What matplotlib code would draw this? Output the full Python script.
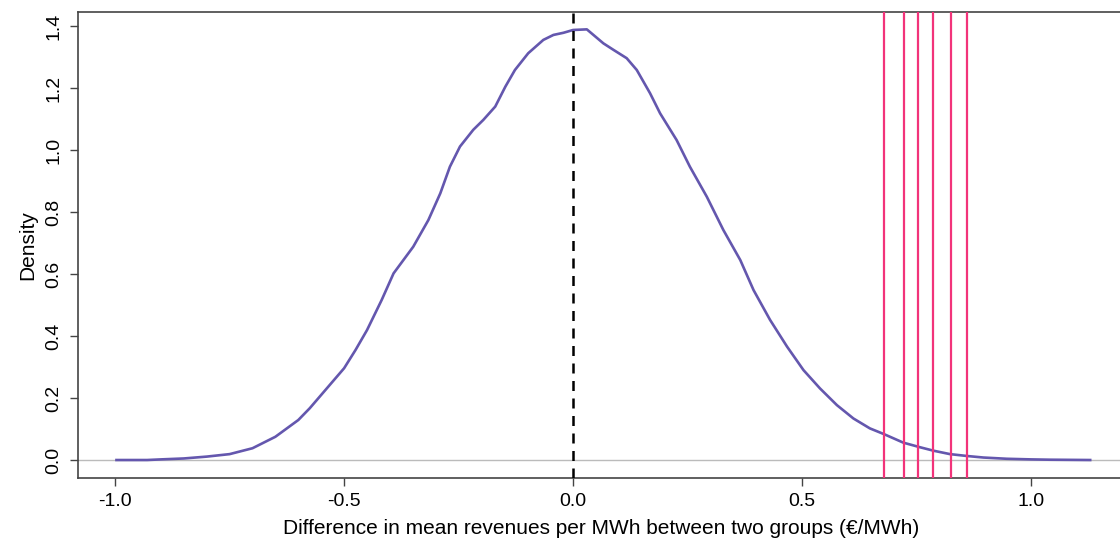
import matplotlib.pyplot as plt

plt.rcParams['font.family'] = ['Liberation Sans', 'DejaVu Sans']

# density curve
diff_x = [-0.997, -0.93, -0.9, -0.85, -0.8, -0.75, -0.7, -0.65, -0.6, -0.575, -0.55, -0.525,
          -0.5, -0.475, -0.45,
          -0.418, -0.392, -0.349, -0.316, -0.29, -0.269, -0.247, -0.218, -0.196, -0.17,
          -0.148, -0.127, -0.098, -0.065, -0.043, -0.021, 0.0, 0.03, 0.066, 0.088, 0.117,
          0.139, 0.168, 0.19, 0.226, 0.255, 0.292, 0.328, 0.365, 0.394, 0.43, 0.467, 0.503,
          0.539, 0.576, 0.612, 0.648, 0.678, 0.721, 0.758, 0.787, 0.823, 0.86, 0.896, 0.947,
          1.0, 1.041, 1.129]
density = [0.0, 0.0, 0.002, 0.005, 0.011, 0.019, 0.038, 0.075, 0.129, 0.167, 0.21, 0.253,
           0.296, 0.355, 0.419,
           0.516, 0.602, 0.688, 0.774, 0.86, 0.946, 1.011, 1.065, 1.097, 1.14,
           1.204, 1.258, 1.312, 1.355, 1.371, 1.378, 1.387, 1.389, 1.344, 1.323, 1.296,
           1.258, 1.183, 1.118, 1.032, 0.946, 0.849, 0.742, 0.645, 0.548, 0.452, 0.366, 0.29,
           0.231, 0.177, 0.134, 0.102, 0.084, 0.056, 0.041, 0.03, 0.019, 0.013, 0.008, 0.004,
           0.002, 0.001, 0.0]

# observed differences (red lines)
observed = [0.678, 0.722, 0.754, 0.785, 0.824, 0.860]

fig = plt.figure(figsize=(11.2, 5.4), dpi=100)
ax = fig.add_axes([78 / 1120, (540 - 478) / 540, (1125 - 78) / 1120, (478 - 12) / 540])

ax.axhline(0, color='#bbbbbb', lw=1.0, zorder=1)
ax.plot(diff_x, density, color='#6457ae', lw=1.9, zorder=3)
for v in observed:
    ax.axvline(v, color='#f2337a', lw=1.6, zorder=4)
ax.axvline(0, color='black', lw=1.8, ls=(0, (4, 3)), zorder=5)

ax.set_xlim(-1.081, 1.205)
ax.set_ylim(-0.058, 1.445)
ax.set_xticks([-1.0, -0.5, 0.0, 0.5, 1.0])
ax.set_xticklabels(['-1.0', '-0.5', '0.0', '0.5', '1.0'])
ax.set_yticks([0.0, 0.2, 0.4, 0.6, 0.8, 1.0, 1.2, 1.4])
ax.set_yticklabels(['0.0', '0.2', '0.4', '0.6', '0.8', '1.0', '1.2', '1.4'], rotation=90, va='center')

for s in ax.spines.values():
    s.set_color('#444444')
    s.set_linewidth(1.2)
ax.tick_params(direction='out', length=6, width=1.0, color='#444444', labelsize=14, pad=5)

ax.set_xlabel('Difference in mean revenues per MWh between two groups (€/MWh)', fontsize=15, labelpad=6)
ax.set_ylabel('Density', fontsize=15, labelpad=6)

fig.savefig('out.png', dpi=100)
